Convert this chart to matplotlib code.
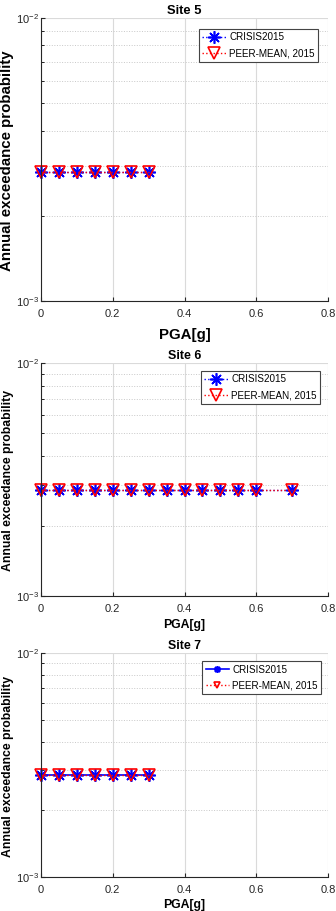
import numpy as np
import matplotlib
matplotlib.use("Agg")
import matplotlib.pyplot as plt
from matplotlib.ticker import LogLocator, NullFormatter, FixedLocator

plt.rcParams['font.family'] = ['Liberation Sans', 'DejaVu Sans']
plt.rcParams['mathtext.fontset'] = 'custom'
plt.rcParams['mathtext.rm'] = 'Liberation Sans'
plt.rcParams['mathtext.it'] = 'Liberation Sans:italic'
plt.rcParams['mathtext.bf'] = 'Liberation Sans:bold'

# data
sites = ["Site 5", "Site 6", "Site 7"]
pga_5 = [0, 0.05, 0.1, 0.15, 0.2, 0.25, 0.3]
pga_6 = [0, 0.05, 0.1, 0.15, 0.2, 0.25, 0.3, 0.35, 0.4, 0.45, 0.5, 0.55, 0.6, 0.7]
pga_7 = [0, 0.05, 0.1, 0.15, 0.2, 0.25, 0.3]
crisis_5 = [2.85e-3] * 7
peer_5 = [2.85e-3] * 7
crisis_6 = [2.85e-3] * 14
peer_6 = [2.85e-3] * 14
crisis_7 = [2.85e-3] * 7
peer_7 = [2.85e-3] * 7

pga = [pga_5, pga_6, pga_7]
crisis = [crisis_5, crisis_6, crisis_7]
peer = [peer_5, peer_6, peer_7]

W, H = 336, 911
fig = plt.figure(figsize=(W / 100, H / 100), dpi=100)

# axes boxes in pixels: left, top, right, bottom
boxes = [(41, 18, 328, 301), (41, 363, 328, 596), (41, 653, 328, 877)]
label_size = [10.8, 8.8, 8.8]
title_size = [9.4, 9.0, 8.9]
xlabel_pad = [6, 3.5, 2.5]
legend_anchor = [(0.965, 0.961), (0.972, 0.966), (0.976, 0.964)]
asterisk = (8, 2, 0)

for i, (l, t, r, b) in enumerate(boxes):
    ax = fig.add_axes([l / W, 1 - b / H, (r - l) / W, (b - t) / H])
    ax.set_yscale('log')
    ax.set_xlim(0, 0.8)
    ax.set_ylim(1e-3, 1e-2)

    crisis_ls = ':' if i < 2 else '-'
    ax.plot(pga[i], crisis[i], color='blue', linestyle=crisis_ls, lw=1.0 if i < 2 else 1.2,
            marker=asterisk, ms=9, mew=1.2, label='CRISIS2015', clip_on=False)
    ax.plot(pga[i], peer[i], color='red', linestyle=':', lw=1.0,
            marker='v', ms=9, mfc='none', mew=1.2, label='PEER-MEAN, 2015',
            clip_on=False)

    ax.xaxis.set_major_locator(FixedLocator([0, 0.2, 0.4, 0.6, 0.8]))
    ax.set_xticklabels(['0', '0.2', '0.4', '0.6', '0.8'])
    ax.yaxis.set_major_locator(FixedLocator([1e-3, 1e-2]))
    ax.set_yticklabels([r'$10^{-3}$', r'$10^{-2}$'])
    ax.yaxis.set_minor_locator(LogLocator(base=10, subs=np.arange(2, 10)))
    ax.yaxis.set_minor_formatter(NullFormatter())

    ax.grid(True, axis='x', which='major', color='#dadada', lw=0.8)
    ax.grid(True, axis='y', which='major', color='#dadada', lw=0.8)
    ax.grid(True, axis='y', which='minor', color='#c8c8c8', lw=0.7, linestyle=':')
    ax.set_axisbelow(True)

    ax.tick_params(direction='in', length=3, labelsize=8, colors='#262626')
    ax.tick_params(axis='x', pad=6)
    ax.tick_params(axis='y', pad=1.5)
    ax.tick_params(which='minor', direction='in', length=2)
    for s in ['top', 'right']:
        ax.spines[s].set_visible(False)
    for s in ['left', 'bottom']:
        ax.spines[s].set_color('#262626')

    ax.set_title(sites[i], fontsize=title_size[i], fontweight='bold', pad=3)
    ax.set_xlabel('PGA[g]', fontsize=label_size[i], fontweight='bold',
                  labelpad=xlabel_pad[i])
    ax.set_ylabel('Annual exceedance probability', fontsize=label_size[i],
                  fontweight='bold')
    ax.yaxis.set_label_coords(-0.094, 0.495)

    leg = ax.legend(loc='upper right', fontsize=7.1, fancybox=False,
                    framealpha=1, edgecolor='#444444', borderpad=0.35,
                    handlelength=2.4, handletextpad=0.3, labelspacing=0.6,
                    borderaxespad=0, bbox_to_anchor=legend_anchor[i],
                    markerscale=1.0 if i < 2 else 0.55)
    leg.get_frame().set_linewidth(0.8)

fig.savefig('out.png', dpi=100)
